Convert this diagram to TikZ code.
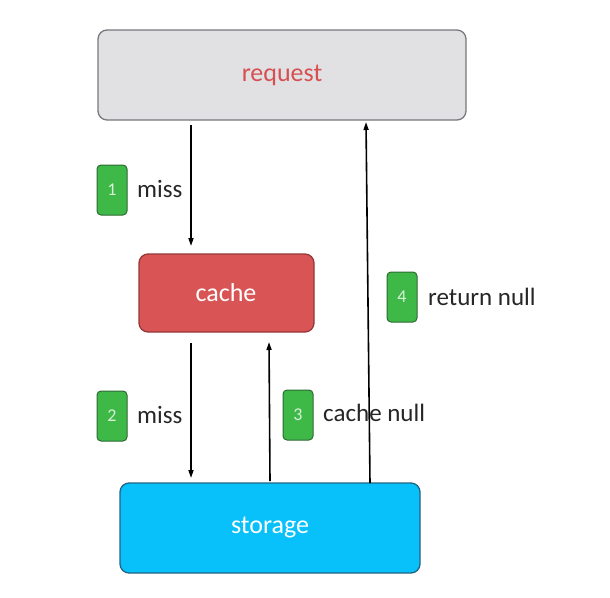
\documentclass[tikz,border=0pt]{standalone}
\usepackage{fontspec}
\setmainfont{Carlito}
\usetikzlibrary{arrows.meta}
\definecolor{reqfill}{RGB}{225,225,228}
\definecolor{reqdraw}{RGB}{120,120,125}
\definecolor{reqtext}{RGB}{214,80,82}
\definecolor{cachefill}{RGB}{217,85,85}
\definecolor{cachedraw}{RGB}{150,55,55}
\definecolor{storfill}{RGB}{8,192,250}
\definecolor{stordraw}{RGB}{35,100,130}
\definecolor{badgefill}{RGB}{62,185,72}
\definecolor{badgedraw}{RGB}{45,105,50}
\definecolor{badgetext}{RGB}{215,240,215}
\begin{document}
\begin{tikzpicture}[x=1pt,y=-1pt,
  box/.style={rounded corners=9pt, line width=1.3pt},
  badge/.style={draw=badgedraw, fill=badgefill, rounded corners=4pt, line width=1pt,
    minimum width=30pt, minimum height=50pt, inner sep=0pt, text=badgetext, font=\fontsize{18}{18}\selectfont},
  lbl/.style={anchor=west, inner sep=0pt, font=\fontsize{25}{25}\selectfont, text=black!85},
  arr/.style={-{Triangle[length=8pt,width=5pt]}, line width=1.6pt}]
\useasboundingbox (0,0) rectangle (610,597);
% boxes
\draw[box, draw=reqdraw, fill=reqfill] (98,30) rectangle (466,120);
\node[text=reqtext, font=\fontsize{26}{26}\selectfont] (req) at (282,75) {request};
\coordinate (reqA) at (191,125);
\coordinate (reqB) at (366,122);
\draw[box, draw=cachedraw, fill=cachefill] (139,254) rectangle (314,332);
\node[text=white, font=\fontsize{26}{26}\selectfont] (cache) at (226,293) {cache};
\coordinate (cacheIn) at (191,246);
\coordinate (cacheOut) at (191,343);
\coordinate (cacheRet) at (269,342);
\draw[box, draw=stordraw, fill=storfill] (120,483) rectangle (420,573);
\node[text=white, font=\fontsize{26}{26}\selectfont] (stor) at (270,528) {storage};
\coordinate (storIn) at (191,478);
\coordinate (storA) at (270,481);
\coordinate (storB) at (370,483);
% arrows
\draw[arr] (reqA) -- (cacheIn);
\draw[arr] (cacheOut) -- (storIn);
\draw[arr] (storA) -- (cacheRet);
\draw[arr] (storB) -- (reqB);
% badges and labels
\node[badge] (b1) at (112,190) {1};
\node[lbl] (l1) at (137,189) {miss};
\node[badge] (b2) at (112,416) {2};
\node[lbl] (l2) at (137,415) {miss};
\node[badge] (b3) at (298,415) {3};
\node[lbl] (l3) at (323,413) {cache null};
\node[badge] (b4) at (402,297) {4};
\node[lbl] (l4) at (428,297) {return null};
\end{tikzpicture}
\end{document}
